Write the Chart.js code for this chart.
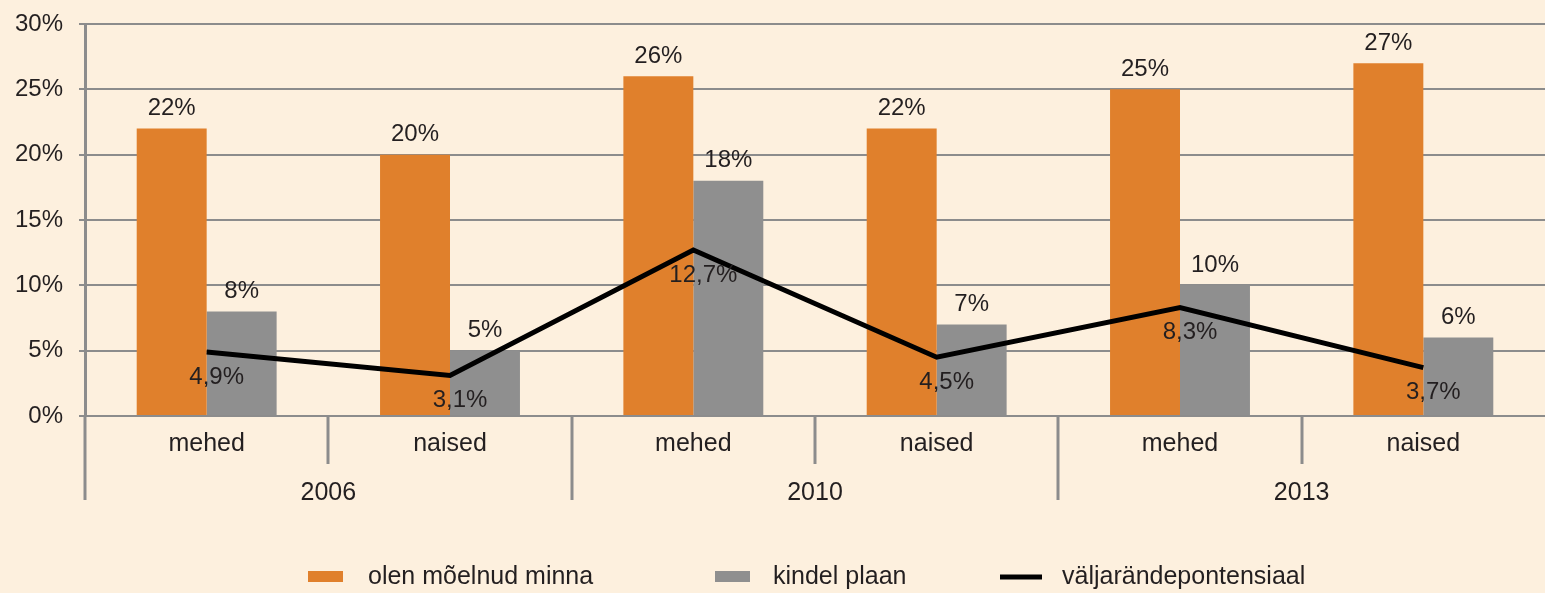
<!DOCTYPE html>
<html>
<head>
<meta charset="utf-8">
<script src="https://cdn.jsdelivr.net/npm/chart.js@4.4.0/dist/chart.umd.min.js"></script>
<style>
  html, body { margin: 0; padding: 0; background: #fdf0de; }
  #wrap { width: 1545px; height: 593px; }
</style>
</head>
<body>
<div id="wrap"><canvas id="chart"></canvas></div>
<script>
// andmed
const categories = ["mehed", "naised", "mehed", "naised", "mehed", "naised"];
const years = ["2006", "2010", "2013"];
const olenMoelnud = [22, 20, 26, 22, 25, 27];
const kindelPlaan = [8, 5, 18, 7, 10, 6];
const potentsiaal = [4.9, 3.1, 12.7, 4.5, 8.3, 3.7];

const FONT = "'Liberation Sans', Arial, Helvetica, sans-serif";
const TEXT = "#231f20";
const AXIS = "#8c8c8c";

const fmt = v => String(v).replace(".", ",") + "%";

// väärtused tulpade kohal ja joone all, x-telje grupid, legend
const extras = {
  id: "extras",
  afterDatasetsDraw(chart) {
    const ctx = chart.ctx;
    const x = chart.scales.x;
    const area = chart.chartArea;
    ctx.save();
    ctx.fillStyle = TEXT;
    ctx.font = "24px " + FONT;
    ctx.textAlign = "center";
    ctx.textBaseline = "middle";

    // tulpade sildid
    [0, 1].forEach(di => {
      chart.getDatasetMeta(di).data.forEach((bar, i) => {
        ctx.fillText(chart.data.datasets[di].data[i] + "%", bar.x, bar.y - 20);
      });
    });
    // joone sildid
    chart.getDatasetMeta(2).data.forEach((pt, i) => {
      ctx.fillText(fmt(potentsiaal[i]), pt.x + 10, pt.y + 25);
    });

    // x-telje jaotusjooned
    ctx.strokeStyle = AXIS;
    ctx.lineWidth = 3;
    for (let i = 0; i < categories.length; i++) {
      const px = Math.round(x.getPixelForValue(i - 0.5));
      const long = i % 2 === 0;
      ctx.beginPath();
      ctx.moveTo(px, area.bottom);
      ctx.lineTo(px, area.bottom + (long ? 84 : 48));
      ctx.stroke();
    }
    // kategooriad ja aastad
    ctx.font = "25px " + FONT;
    categories.forEach((c, i) => {
      ctx.fillText(c, x.getPixelForValue(i), area.bottom + 28);
    });
    years.forEach((y, k) => {
      ctx.fillText(y, x.getPixelForValue(k * 2 + 0.5), area.bottom + 77);
    });

    // legend
    const ly = 577;
    ctx.textAlign = "left";
    ctx.font = "25px " + FONT;
    const ds = chart.data.datasets;
    ctx.fillStyle = ds[0].backgroundColor;
    ctx.fillRect(308, ly - 6, 35, 11);
    ctx.fillStyle = ds[1].backgroundColor;
    ctx.fillRect(715, ly - 6, 35, 11);
    ctx.strokeStyle = ds[2].borderColor;
    ctx.lineWidth = 5;
    ctx.beginPath();
    ctx.moveTo(1000, ly);
    ctx.lineTo(1042, ly);
    ctx.stroke();
    ctx.fillStyle = TEXT;
    ctx.fillText(ds[0].label, 368, ly);
    ctx.fillText(ds[1].label, 773, ly);
    ctx.fillText(ds[2].label, 1062, ly);
    ctx.restore();
  }
};

new Chart(document.getElementById("chart"), {
  type: "bar",
  data: {
    labels: categories,
    datasets: [
      {
        label: "olen mõelnud minna",
        data: olenMoelnud,
        backgroundColor: "#e0802c",
        order: 2
      },
      {
        label: "kindel plaan",
        data: kindelPlaan,
        backgroundColor: "#8f8f8f",
        order: 2
      },
      {
        type: "line",
        label: "väljarändepontensiaal",
        data: potentsiaal,
        borderColor: "#000000",
        borderWidth: 5,
        pointRadius: 0,
        tension: 0,
        order: 0
      }
    ]
  },
  options: {
    responsive: true,
    maintainAspectRatio: false,
    animation: false,
    layout: { padding: { top: 24, right: 0, bottom: 177, left: 0 } },
    datasets: { bar: { barPercentage: 1, categoryPercentage: 0.575 } },
    plugins: { legend: { display: false }, tooltip: { enabled: false } },
    scales: {
      x: {
        display: false
      },
      y: {
        min: 0,
        max: 30,
        afterFit: s => { s.width = 85; s.paddingTop = 0; s.paddingBottom = 0; },
        ticks: {
          stepSize: 5,
          padding: 16,
          color: TEXT,
          font: { size: 24, family: FONT },
          callback: v => v + "%"
        },
        grid: { color: AXIS, lineWidth: 2, tickLength: 6 },
        border: { color: AXIS, width: 3 }
      }
    }
  },
  plugins: [extras]
});
</script>
</body>
</html>
